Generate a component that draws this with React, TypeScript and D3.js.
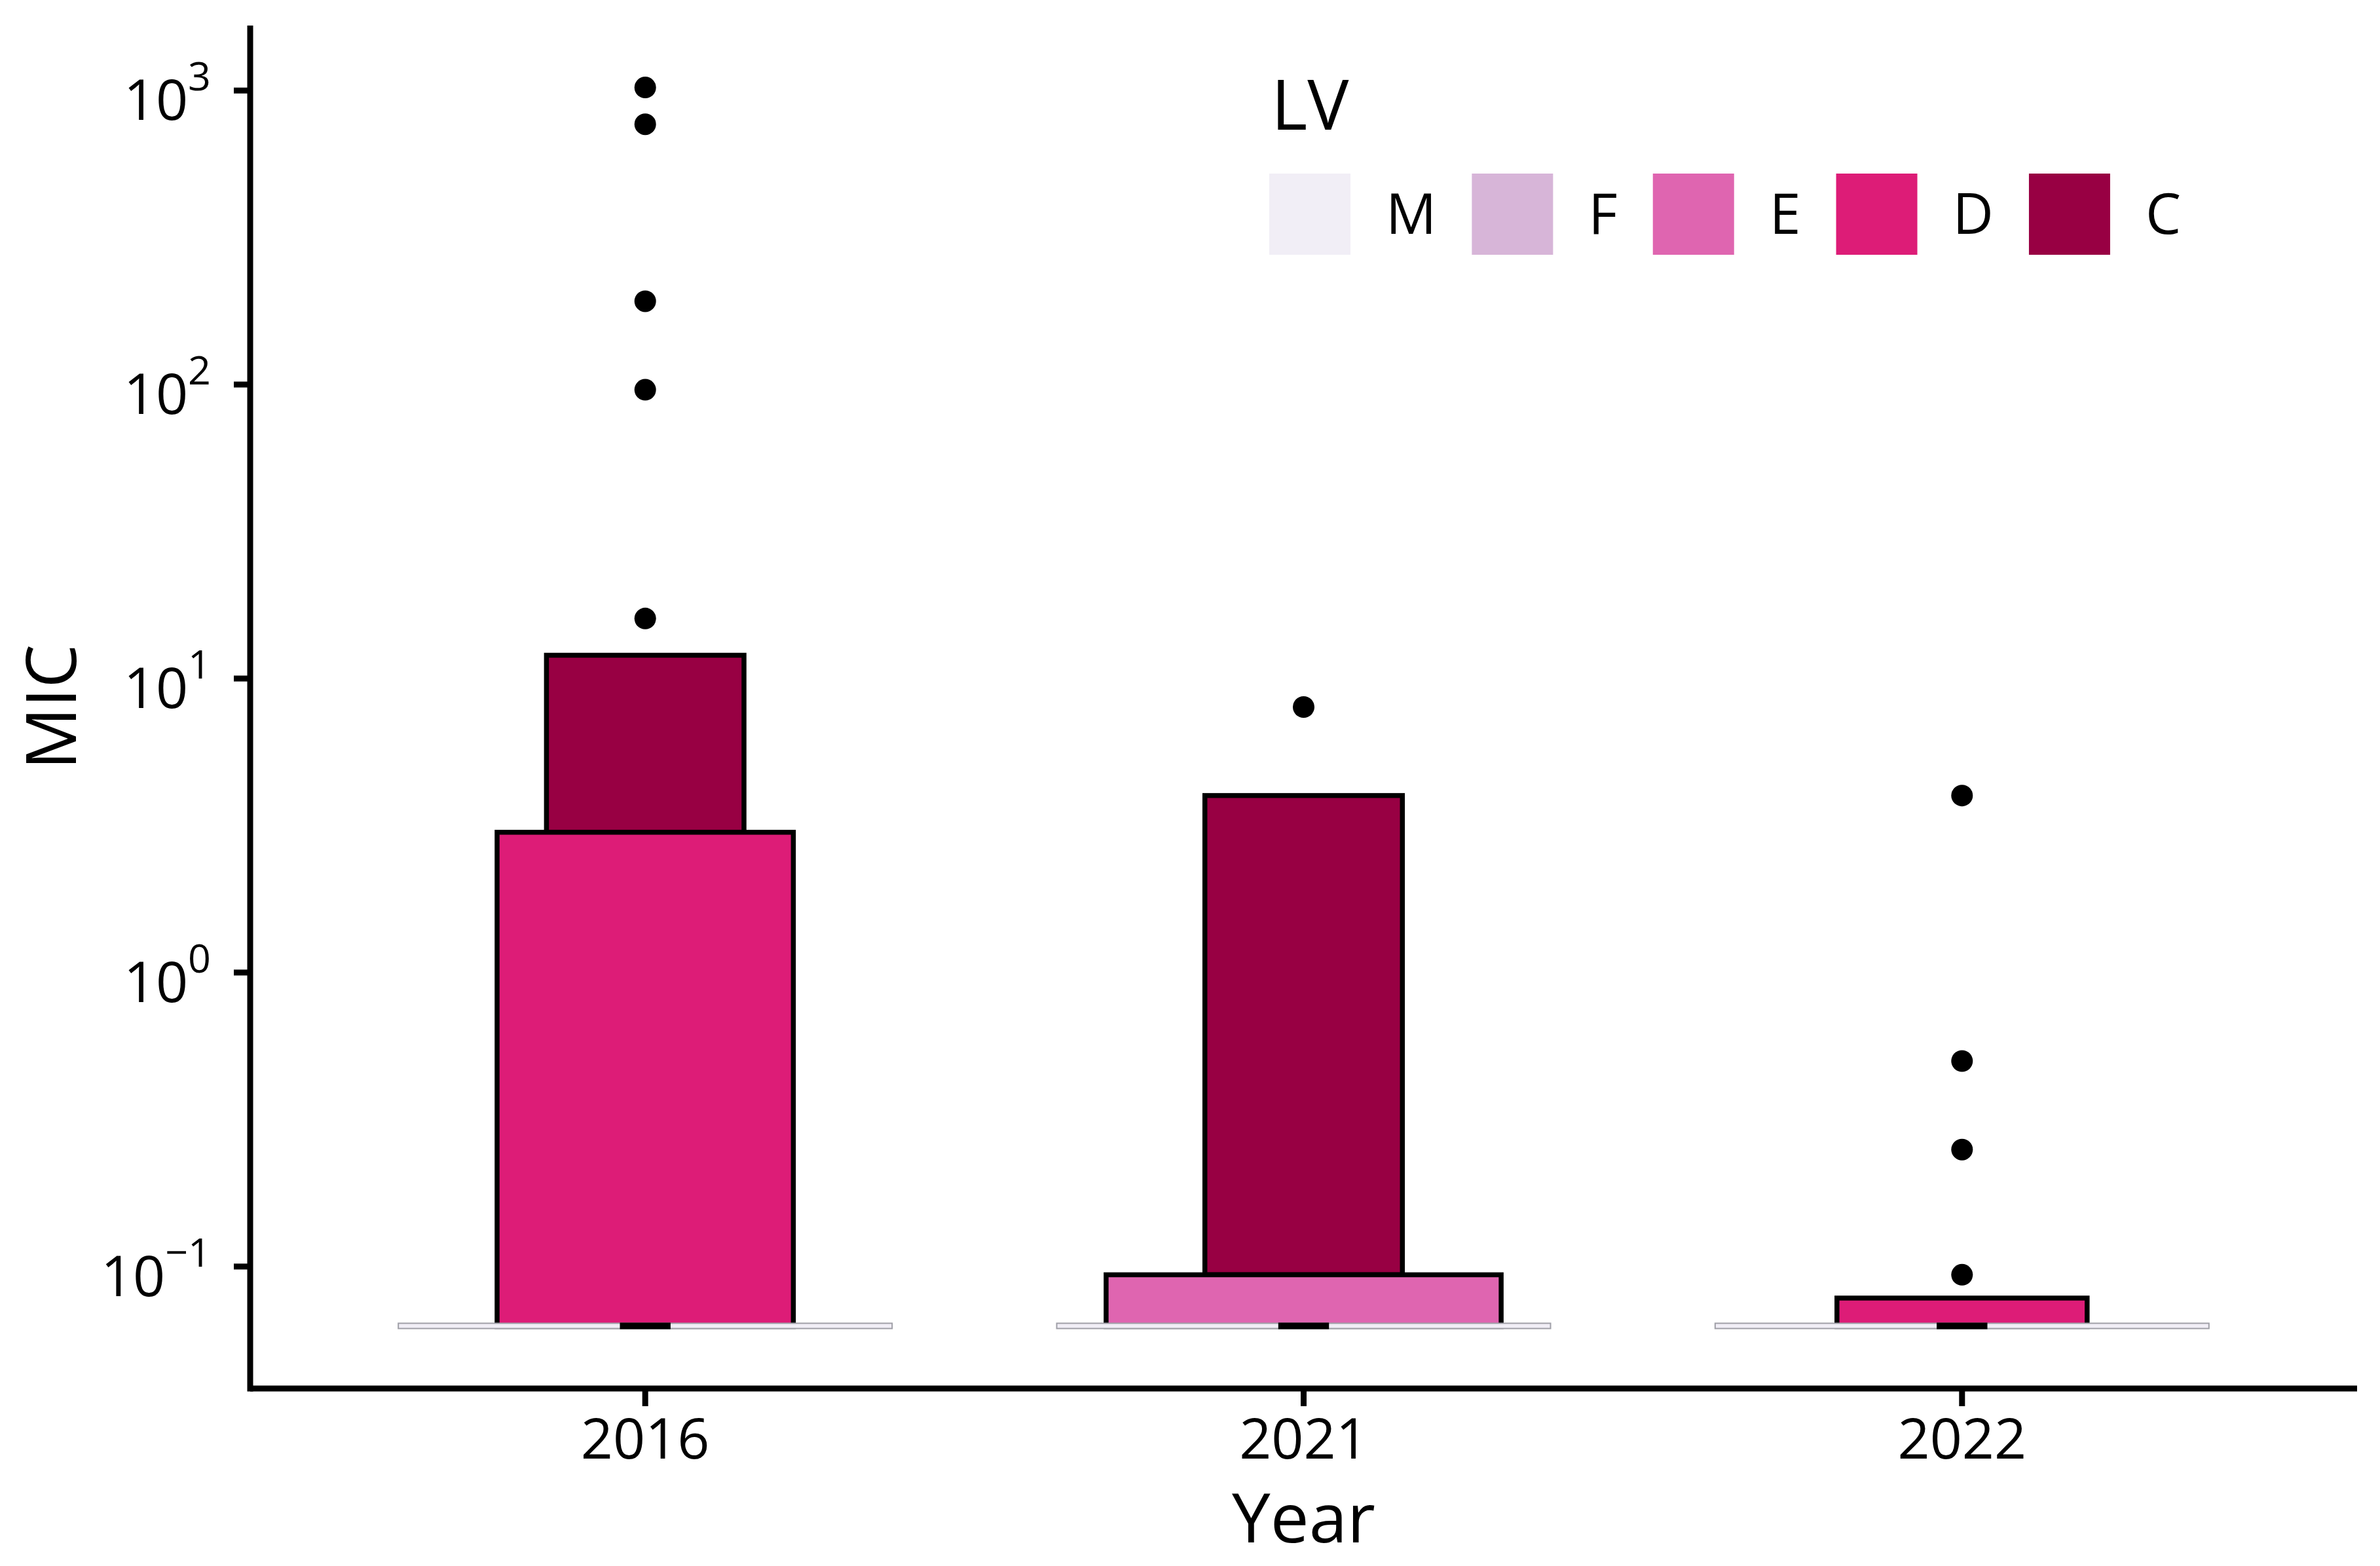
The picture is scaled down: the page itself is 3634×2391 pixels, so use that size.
import React, { useEffect, useRef } from 'react';
import * as d3 from 'd3';

const years = ['2016', '2021', '2022'];
const lvLevels = ['M', 'F', 'E', 'D', 'C'];
const lvColors = ['#F1EEF6', '#D7B5D8', '#DF65B0', '#DD1C77', '#980043'];

// letter-value boxes, outer levels first
const boxYear = ['2016', '2016', '2021', '2021', '2022'];
const boxLevel = ['C', 'D', 'C', 'E', 'D'];
const boxLower = [3, 0.0625, 0.09375, 0.0625, 0.0625];
const boxUpper = [12, 3, 4, 0.09375, 0.078125];
// share of the category step taken by each box
const boxWidths = [0.3, 0.45, 0.3, 0.6, 0.38];

const medianValues = [0.0625, 0.0625, 0.0625];
const medianBoxWidth = 0.75;

const outlierYear = ['2016', '2016', '2016', '2016', '2016', '2021', '2022', '2022', '2022', '2022'];
const outlierValue = [1024, 768, 192, 96, 16, 8, 4, 0.5, 0.25, 0.09375];

const yTickExponents = [-1, 0, 1, 2, 3];

const W = 3634;
const H = 2391;
const FONT = "'Open Sans', 'Noto Sans', sans-serif";

function LvChart() {
  const svgRef = useRef<SVGSVGElement>(null);

  useEffect(() => {
    if (!svgRef.current) return;
    const svg = d3.select(svgRef.current);
    svg.selectAll('*').remove();

    const left = 382;
    const right = 3599;
    const top = 39;
    const bottom = 2120;

    const x = d3.scalePoint<string>().domain(years).range([left, right]).padding(0.6);
    const step = x.step();

    const allValues = [...boxLower, ...boxUpper, ...outlierValue, ...medianValues];
    const lo = Math.log10(d3.min(allValues) as number);
    const hi = Math.log10(d3.max(allValues) as number);
    const pad = (hi - lo) * 0.05;
    const y = d3
      .scaleLog()
      .domain([Math.pow(10, lo - pad), Math.pow(10, hi + pad)])
      .range([bottom, top]);

    const color = d3.scaleOrdinal<string, string>().domain(lvLevels).range(lvColors);

    const g = svg.append('g');

    // boxes
    boxYear.forEach((yr, i) => {
      const cx = x(yr) as number;
      const w = boxWidths[i] * step;
      g.append('rect')
        .attr('x', cx - w / 2)
        .attr('y', y(boxUpper[i]))
        .attr('width', w)
        .attr('height', y(boxLower[i]) - y(boxUpper[i]))
        .attr('fill', color(boxLevel[i]))
        .attr('stroke', 'black')
        .attr('stroke-width', 7.5);
    });

    // median (M) boxes and median lines
    years.forEach((yr, i) => {
      const cx = x(yr) as number;
      const w = medianBoxWidth * step;
      const my = y(medianValues[i]);
      g.append('rect')
        .attr('x', cx - w / 2)
        .attr('y', my - 5)
        .attr('width', w)
        .attr('height', 8)
        .attr('fill', color('M'))
        .attr('stroke', '#a0a0a8')
        .attr('stroke-width', 2);
      g.append('rect')
        .attr('x', cx - 0.077 * step / 2)
        .attr('y', my - 6)
        .attr('width', 0.077 * step)
        .attr('height', 10)
        .attr('fill', 'black');
    });

    // outliers
    g.selectAll('circle.out')
      .data(outlierValue)
      .enter()
      .append('circle')
      .attr('class', 'out')
      .attr('cx', (d, i) => x(outlierYear[i]) as number)
      .attr('cy', (d) => y(d))
      .attr('r', 16.5)
      .attr('fill', 'black');

    // axes
    const axes = svg.append('g').attr('stroke', 'black').attr('stroke-width', 9);
    axes.append('line').attr('x1', left).attr('x2', left).attr('y1', top).attr('y2', bottom + 4.5);
    axes.append('line').attr('x1', left).attr('x2', right).attr('y1', bottom).attr('y2', bottom);

    yTickExponents.forEach((e) => {
      const ty = y(Math.pow(10, e));
      axes.append('line').attr('x1', left - 25).attr('x2', left).attr('y1', ty).attr('y2', ty);
      const t = svg
        .append('text')
        .attr('x', 322)
        .attr('y', ty + 45)
        .attr('text-anchor', 'end')
        .style('font-family', FONT)
        .style('font-size', '86px')
        .attr('fill', 'black');
      t.append('tspan').text('10');
      t.append('tspan')
        .attr('dy', -45)
        .style('font-size', '61px')
        .text(e < 0 ? `\u2212${-e}` : `${e}`);
    });

    years.forEach((yr) => {
      const cx = x(yr) as number;
      axes.append('line').attr('x1', cx).attr('x2', cx).attr('y1', bottom).attr('y2', bottom + 27);
      svg
        .append('text')
        .attr('x', cx)
        .attr('y', 2227)
        .attr('text-anchor', 'middle')
        .style('font-family', FONT)
        .style('font-size', '86px')
        .attr('fill', 'black')
        .text(yr);
    });

    // axis titles
    svg
      .append('text')
      .attr('x', (left + right) / 2)
      .attr('y', 2355)
      .attr('text-anchor', 'middle')
      .style('font-family', FONT)
      .style('font-size', '105px')
      .attr('fill', 'black')
      .text('Year');

    svg
      .append('text')
      .attr('transform', `translate(116, ${(top + bottom) / 2}) rotate(-90)`)
      .attr('text-anchor', 'middle')
      .style('font-family', FONT)
      .style('font-size', '106px')
      .attr('fill', 'black')
      .text('MIC');

    // legend
    const legend = svg.append('g');
    legend
      .append('text')
      .attr('x', 1941)
      .attr('y', 198)
      .style('font-family', FONT)
      .style('font-size', '106px')
      .attr('fill', 'black')
      .text('LV');

    let lx = 1938;
    lvLevels.forEach((lvl) => {
      legend
        .append('rect')
        .attr('x', lx)
        .attr('y', 265)
        .attr('width', 124)
        .attr('height', 124)
        .attr('fill', color(lvl));
      const label = legend
        .append('text')
        .attr('x', lx + 124 + 54)
        .attr('y', 357)
        .style('font-family', FONT)
        .style('font-size', '86px')
        .attr('fill', 'black')
        .text(lvl);
      const len = (label.node() as SVGTextElement).getComputedTextLength();
      lx = lx + 124 + 54 + len + 54;
    });
  }, []);

  return (
    <svg
      ref={svgRef}
      width={W}
      height={H}
      style={{ position: 'absolute', left: 0, top: 0, background: 'white' }}
    />
  );
}

export default function App() {
  return <LvChart />;
}
